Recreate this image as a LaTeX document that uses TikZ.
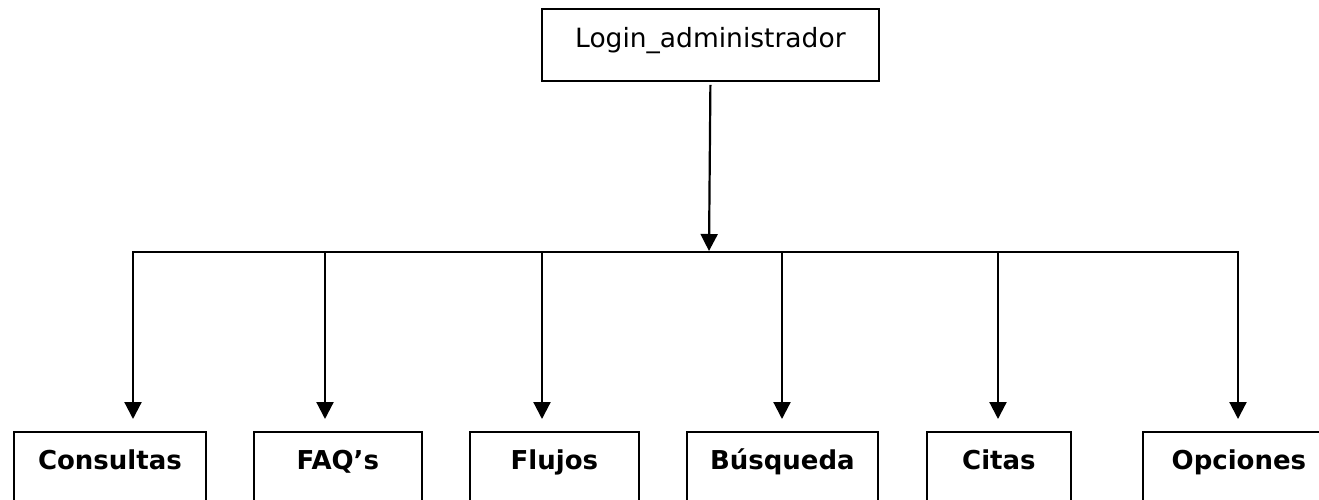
\documentclass[tikz,border=0pt]{standalone}
\usepackage{fontspec}
\setmainfont{DejaVu Sans}
\usetikzlibrary{arrows.meta}
\begin{document}
\begin{tikzpicture}[x=1pt,y=-1pt,
  line width=2pt,
  topbox/.style={draw, line width=1.8pt, anchor=north west, inner xsep=0pt, inner ysep=0pt,
    minimum width=337pt, text height=39pt, text depth=33pt, font=\fontsize{26.5}{30}\selectfont},
  leafbox/.style={draw, line width=1.8pt, anchor=north west, inner xsep=0pt, inner ysep=0pt,
    text height=38pt, text depth=90pt, font=\bfseries\fontsize{26}{30}\selectfont},
  link/.style={-{Triangle[width=17pt,length=17pt]}, line width=2.2pt}]
\useasboundingbox (0,0) rectangle (1319,500);
\clip (0,0) rectangle (1319,500);

% root
\node[topbox] (root) at (541,8) {Login\_administrador};

% leaves
\node[leafbox, minimum width=192pt] (consultas) at (13,431)   {Consultas};
\node[leafbox, minimum width=168pt] (faq)       at (253,431)  {FAQ’s};
\node[leafbox, minimum width=169pt] (flujos)    at (469,431)  {Flujos};
\node[leafbox, minimum width=191pt] (busqueda)  at (686,431)  {Búsqueda};
\node[leafbox, minimum width=144pt] (citas)     at (926,431)  {Citas};
\node[leafbox, minimum width=192pt] (opciones)  at (1142,431) {Opciones};

% distribution bus
\coordinate (busL) at (133,252);
\coordinate (busR) at (1238,252);
\coordinate (busC) at (709,251);
\draw[line width=2.2pt, line cap=rect] (busL) -- (busR);

\coordinate (d1) at (133,252);
\coordinate (d2) at (325,252);
\coordinate (d3) at (542,252);
\coordinate (d4) at (782,252);
\coordinate (d5) at (998,252);
\coordinate (d6) at (1238,252);

\draw[link] ([yshift=-3pt]root.south) -- (busC);

\draw[link] (d1) -- ([yshift=12pt]d1 |- consultas.north);
\draw[link] (d2) -- ([yshift=12pt]d2 |- faq.north);
\draw[link] (d3) -- ([yshift=12pt]d3 |- flujos.north);
\draw[link] (d4) -- ([yshift=12pt]d4 |- busqueda.north);
\draw[link] (d5) -- ([yshift=12pt]d5 |- citas.north);
\draw[link] (d6) -- ([yshift=12pt]d6 |- opciones.north);
\end{tikzpicture}
\end{document}
